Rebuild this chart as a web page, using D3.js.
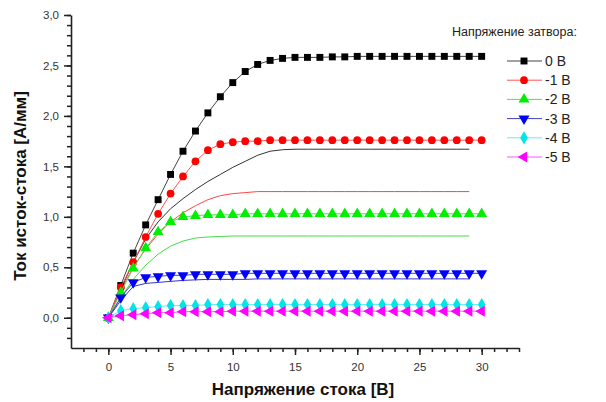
<!DOCTYPE html>
<html lang="ru">
<head>
<meta charset="UTF-8">
<title>ВАХ</title>
<script src="https://d3js.org/d3.v7.min.js"></script>
<style>
  body { margin: 0; background: #fff; }
  svg { font-family: "Liberation Sans", Arial, sans-serif; }
</style>
</head>
<body>
<div id="chart"></div>
<script>
// drain voltage, V
var vd = [0,1,2,3,4,5,6,7,8,9,10,11,12,13,14,15,16,17,18,19,20,21,22,23,24,25,26,27,28,29,30];
var vdModel = [0,1,2,3,4,5,6,7,8,9,10,11,12,13,14,15,16,17,18,19,20,21,22,23,24,25,26,27,28,29];

// gate voltage labels
var gateLabels = ["0 В", "-1 В", "-2 В", "-3 В", "-4 В", "-5 В"];

// measured drain current, A/mm
var id0 = [0,0.32,0.64,0.92,1.17,1.42,1.65,1.85,2.03,2.19,2.33,2.44,2.51,2.55,2.57,2.58,2.58,2.58,2.585,2.585,2.59,2.59,2.59,2.59,2.59,2.59,2.59,2.59,2.59,2.59,2.59];
var id1 = [0,0.30,0.55,0.80,1.03,1.23,1.40,1.55,1.66,1.72,1.74,1.75,1.75,1.76,1.76,1.76,1.76,1.76,1.76,1.76,1.76,1.76,1.76,1.76,1.76,1.76,1.76,1.76,1.76,1.76,1.76];
var id2 = [0,0.25,0.49,0.69,0.85,0.95,1.00,1.01,1.02,1.02,1.02,1.03,1.03,1.03,1.03,1.03,1.03,1.03,1.03,1.03,1.03,1.03,1.03,1.03,1.03,1.03,1.03,1.03,1.03,1.03,1.03];
var id3 = [0,0.20,0.35,0.40,0.41,0.42,0.42,0.43,0.43,0.43,0.43,0.44,0.44,0.44,0.44,0.44,0.44,0.44,0.44,0.44,0.44,0.44,0.44,0.44,0.44,0.44,0.44,0.44,0.44,0.44,0.44];
var id4 = [0,0.07,0.09,0.10,0.11,0.12,0.12,0.12,0.13,0.13,0.13,0.13,0.13,0.13,0.13,0.13,0.13,0.13,0.13,0.13,0.13,0.13,0.13,0.13,0.13,0.13,0.13,0.13,0.13,0.13,0.13];
var id5 = [0,0.02,0.03,0.04,0.05,0.05,0.06,0.06,0.06,0.06,0.065,0.065,0.065,0.065,0.065,0.065,0.065,0.065,0.065,0.065,0.065,0.065,0.065,0.065,0.065,0.065,0.065,0.065,0.065,0.065,0.065];

// model curves (thin lines)
var m0 = [0,0.28,0.55,0.78,0.95,1.08,1.18,1.27,1.35,1.42,1.49,1.55,1.61,1.65,1.665,1.67,1.67,1.67,1.67,1.67,1.67,1.67,1.67,1.67,1.67,1.67,1.67,1.67,1.67,1.67];
var m1 = [0,0.27,0.50,0.68,0.83,0.95,1.04,1.11,1.17,1.21,1.23,1.24,1.25,1.25,1.25,1.25,1.25,1.25,1.25,1.25,1.25,1.25,1.25,1.25,1.25,1.25,1.25,1.25,1.25,1.25];
var m2 = [0,0.20,0.38,0.52,0.63,0.71,0.76,0.79,0.80,0.805,0.81,0.81,0.81,0.81,0.81,0.81,0.81,0.81,0.81,0.81,0.81,0.81,0.81,0.81,0.81,0.81,0.81,0.81,0.81,0.81];
var m3 = [0,0.17,0.31,0.34,0.35,0.36,0.37,0.375,0.38,0.38,0.38,0.38,0.385,0.385,0.385,0.385,0.385,0.385,0.385,0.385,0.385,0.385,0.385,0.385,0.385,0.385,0.385,0.385,0.385,0.385];

var yMajor = [0, 0.5, 1.0, 1.5, 2.0, 2.5, 3.0];
var xMajor = [0, 5, 10, 15, 20, 25, 30];

var measured = [id0, id1, id2, id3, id4, id5];
var models = [m0, m1, m2, m3];
var colors = ["#000000", "#ff0000", "#00ee00", "#0000ff", "#00e5e5", "#ff00ff"];
var lineColors = ["#444444", "#ff5555", "#55dd55", "#4444bb", "#66eeee", "#ff55ff"];
var modelColors = ["#333333", "#ff4444", "#44dd44", "#3333cc"];
var shapes = [d3.symbolSquare, d3.symbolCircle, d3.symbolTriangle, "down", d3.symbolDiamond, "left"];

var W = 606, H = 402;
var svg = d3.select("#chart").append("svg").attr("width", W).attr("height", H);

var x = d3.scaleLinear().domain([-3, 33]).range([71, 519]);
var y = d3.scaleLinear().domain([-0.3, 3.0]).range([348, 15]);

var fmt = function (d) { return d3.format(".1f")(d).replace(".", ","); };

// axes: minor ticks
svg.append("g")
    .attr("transform", "translate(0," + y(-0.3) + ")")
    .call(d3.axisBottom(x).tickValues(d3.range(-2, 34, 1)).tickSize(4).tickFormat("").tickSizeOuter(0))
    .call(g => g.select(".domain").remove());
svg.append("g")
    .attr("transform", "translate(" + x(-3) + ",0)")
    .call(d3.axisLeft(y).tickValues(d3.range(-2, 31, 1).map(d => d / 10)).tickSize(4).tickFormat("").tickSizeOuter(0))
    .call(g => g.select(".domain").remove());

// axes: major ticks and labels
var xAxis = svg.append("g")
    .attr("transform", "translate(0," + y(-0.3) + ")")
    .call(d3.axisBottom(x).tickValues(xMajor).tickSize(7).tickSizeOuter(0).tickPadding(8));
var yAxis = svg.append("g")
    .attr("transform", "translate(" + x(-3) + ",0)")
    .call(d3.axisLeft(y).tickValues(yMajor).tickFormat(fmt).tickSize(7).tickSizeOuter(0).tickPadding(5));

svg.selectAll(".tick line").attr("stroke", "#222").attr("stroke-width", 1.5);
svg.selectAll(".domain").attr("stroke", "#222").attr("stroke-width", 1.6);
svg.selectAll(".tick text").attr("font-size", 11.5).attr("fill", "#333")
    .attr("font-family", "'Liberation Sans', Arial, sans-serif");

// axis titles
svg.append("text")
    .attr("x", 303).attr("y", 395)
    .attr("text-anchor", "middle")
    .attr("font-size", 17).attr("font-weight", "bold").attr("fill", "#111")
    .text("Напряжение стока [В]");
svg.append("text")
    .attr("transform", "translate(26,186) rotate(-90)")
    .attr("text-anchor", "middle")
    .attr("font-size", 17).attr("font-weight", "bold").attr("fill", "#111")
    .text("Ток исток-стока [А/мм]");

// model lines
var modelLine = d3.line().x((d, i) => x(vdModel[i])).y(d => y(d));
models.forEach(function (m, k) {
    svg.append("path")
        .datum(m)
        .attr("fill", "none")
        .attr("stroke", modelColors[k])
        .attr("stroke-width", 1)
        .attr("d", modelLine);
});

function marker(k, cx, cy, g) {
    var s = shapes[k];
    var col = colors[k];
    if (s === "down") {
        g.append("path").attr("d", d3.symbol(d3.symbolTriangle, 52)())
            .attr("transform", "translate(" + cx + "," + cy + ") rotate(180)").attr("fill", col);
    } else if (s === "left") {
        g.append("path").attr("d", d3.symbol(d3.symbolTriangle, 52)())
            .attr("transform", "translate(" + cx + "," + cy + ") rotate(-90)").attr("fill", col);
    } else {
        var size = s === d3.symbolSquare ? 48 : s === d3.symbolCircle ? 47 : s === d3.symbolDiamond ? 50 : 52;
        g.append("path").attr("d", d3.symbol(s, size)())
            .attr("transform", "translate(" + cx + "," + cy + ")").attr("fill", col);
    }
}

// measured series
var dataLine = d3.line().x((d, i) => x(vd[i])).y(d => y(d));
measured.forEach(function (ser, k) {
    var g = svg.append("g");
    g.append("path")
        .datum(ser)
        .attr("fill", "none")
        .attr("stroke", lineColors[k])
        .attr("stroke-width", 1)
        .attr("d", dataLine);
    ser.forEach(function (v, i) { marker(k, x(vd[i]), y(v), g); });
});

// legend
var leg = svg.append("g");
leg.append("text")
    .attr("x", 452).attr("y", 36)
    .attr("font-size", 12.5).attr("fill", "#222")
    .text("Напряжение затвора:");
gateLabels.forEach(function (lab, k) {
    var ly = 61 + k * 19.2;
    var row = leg.append("g");
    row.append("line")
        .attr("x1", 507).attr("x2", 542).attr("y1", ly).attr("y2", ly)
        .attr("stroke", lineColors[k]).attr("stroke-width", 1);
    marker(k, 524, ly, row);
    row.append("text")
        .attr("x", 545).attr("y", ly + 5)
        .attr("font-size", 14).attr("fill", "#222")
        .text(lab);
});
</script>
</body>
</html>
